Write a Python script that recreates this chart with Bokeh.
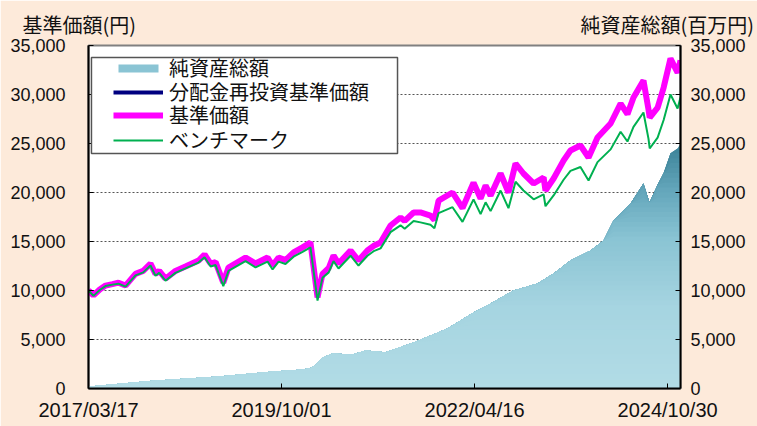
import re
import numpy as np
import pandas as pd
from bokeh.plotting import figure
from bokeh.models import (Range1d, LinearAxis, FixedTicker, NumeralTickFormatter,
                          Legend, LegendItem, BoxAnnotation, DatetimeTickFormatter, Title)
from bokeh.embed import file_html
from bokeh.resources import INLINE

# ---------------- data ----------------
dates = ["2017-03-17", "2017-04-10", "2017-05-10", "2017-06-07", "2017-07-10", "2017-08-08",
         "2017-09-11", "2017-10-29", "2017-12-05", "2018-01-09", "2018-02-02", "2018-02-20",
         "2018-03-22", "2018-05-09", "2018-06-26", "2018-08-28", "2018-09-26", "2018-10-25",
         "2018-11-18", "2018-12-25", "2019-01-19", "2019-04-11", "2019-05-29", "2019-07-26",
         "2019-08-19", "2019-09-17", "2019-10-20", "2019-11-28", "2020-01-10", "2020-02-17",
         "2020-03-22", "2020-04-15", "2020-05-15", "2020-06-07", "2020-07-01", "2020-08-28",
         "2020-10-05", "2020-11-17", "2020-12-20", "2021-01-19", "2021-03-08", "2021-04-25",
         "2021-05-15", "2021-06-27", "2021-07-30", "2021-09-16", "2021-10-05", "2021-10-25",
         "2021-12-31", "2022-02-17", "2022-04-11", "2022-05-15", "2022-06-08", "2022-07-02",
         "2022-08-19", "2022-09-26", "2022-10-30", "2022-12-07", "2023-01-25", "2023-03-14",
         "2023-03-23", "2023-05-01", "2023-06-18", "2023-07-21", "2023-09-07", "2023-10-16",
         "2023-11-28", "2024-01-30", "2024-03-18", "2024-04-20", "2024-05-19", "2024-07-06",
         "2024-07-30", "2024-08-05", "2024-09-12", "2024-10-11", "2024-11-13", "2024-12-17",
         "2024-12-31"]

nav = [10000, 9500, 10100, 10500, 10650, 10800,
       10500, 11700, 12000, 12750, 11700, 12000,
       11200, 12000, 12450, 13060, 13670, 12750,
       12900, 10800, 12350, 13370, 12750, 13370,
       12550, 13370, 13100, 13880, 14400, 14900,
       9300, 11700, 12300, 13570, 12750, 14080,
       13060, 14080, 14600, 14900, 16630, 17450,
       17100, 17960, 17960, 17650, 17200, 19180,
       20000, 18400, 21000, 19390, 20710, 19690,
       21940, 20000, 22960, 21940, 20920, 21530,
       20200, 21430, 23270, 24290, 24800, 23570,
       25610, 27040, 29080, 28000, 29690, 31430,
       28500, 27650, 28670, 30710, 33670, 32240,
       33470]

bench = [10000, 9450, 10050, 10450, 10600, 10700,
         10400, 11550, 11850, 12550, 11500, 11800,
         11000, 11800, 12250, 12850, 13400, 12450,
         12600, 10450, 12000, 13000, 12350, 12950,
         12150, 12950, 12700, 13450, 13950, 14400,
         8980, 11300, 11850, 13000, 12250, 13550,
         12550, 13550, 14050, 14300, 15950, 16650,
         16300, 17100, 16950, 16700, 16350, 17900,
         18500, 17000, 19300, 17800, 19000, 18100,
         20200, 18400, 21100, 20200, 19300, 19800,
         18600, 19700, 21300, 22200, 22600, 21220,
         23100, 24400, 26200, 25200, 26700, 28160,
         25500, 24490, 25600, 27400, 30000, 28570,
         29700]

na_dates = ["2017-03-17", "2018-01-19", "2018-12-02", "2019-08-19", "2020-01-10", "2020-02-17",
            "2020-03-10", "2020-04-15", "2020-06-02", "2020-09-06", "2020-11-08", "2021-02-12",
            "2021-06-27", "2021-12-07", "2022-04-11", "2022-07-02", "2022-10-20", "2023-02-13",
            "2023-05-01", "2023-07-21", "2023-10-26", "2023-12-27", "2024-02-13", "2024-05-05",
            "2024-07-06", "2024-08-04", "2024-09-12", "2024-10-11", "2024-11-13", "2024-12-17",
            "2024-12-31"]
net_assets = [200, 800, 1220, 1730, 1940, 2100,
              2350, 3160, 3570, 3470, 3880, 3700,
              4690, 6120, 7760, 8670, 10000, 10710,
              11730, 13060, 14080, 15100, 17140, 18880,
              20920, 18980, 20800, 22000, 24000, 24500,
              25000]

x_tick_labels = ["2017/03/17", "2019/10/01", "2022/04/16", "2024/10/30"]
y_ticks = [0, 5000, 10000, 15000, 20000, 25000, 30000, 35000]

series_names = ["純資産総額", "分配金再投資基準価額", "基準価額", "ベンチマーク"]
left_title = "基準価額(円)"
right_title = "純資産総額(百万円)"

# ---------------- styling ----------------
BG = "#FDEADA"
JP = "Noto Sans CJK JP"
NUM = "Liberation Sans"
TXT = "#111111"

d = pd.to_datetime(dates)
nd = pd.to_datetime(na_dates)
xt = [pd.Timestamp(s.replace("/", "-")).value // 10**6 for s in x_tick_labels]

# both axis titles share the strip above the frame (separated by ideographic spaces)
title = Title(text=left_title + "\u3000" * 22 + "  " + right_title, align="left", offset=-66,
              standoff=14, text_font=JP, text_font_size="20px", text_font_style="normal",
              text_color=TXT)

p = figure(frame_width=592, frame_height=343, x_axis_type="datetime",
           x_range=Range1d(d[0], d[-1]), y_range=Range1d(y_ticks[0], y_ticks[-1]),
           output_backend="svg", toolbar_location=None, title=title,
           min_border_left=88, min_border_right=77, min_border_top=45, min_border_bottom=38,
           background_fill_color="white", border_fill_color=BG)
p.extra_y_ranges = {"na": Range1d(y_ticks[0], y_ticks[-1])}

p.outline_line_color = "#808080"
p.outline_line_width = 2
p.xgrid.grid_line_color = None
p.ygrid.ticker = FixedTicker(ticks=y_ticks[1:-1])
p.ygrid.grid_line_color = "#555555"
p.ygrid.grid_line_dash = "2 2"
p.ygrid.grid_line_width = 1

# gradient area for net assets (stacked bands, darker for higher values)
stops_v = [0, 8000, 15000, 20000, 25000]
stops_c = [(178, 220, 230), (166, 213, 225), (138, 196, 212), (100, 166, 187), (56, 128, 149)]
levels = np.linspace(0, 25000, 51)
na_arr = np.array(net_assets, dtype=float)


def colour_at(v):
    r = np.interp(v, stops_v, [c[0] for c in stops_c])
    g = np.interp(v, stops_v, [c[1] for c in stops_c])
    b = np.interp(v, stops_v, [c[2] for c in stops_c])
    return "#%02x%02x%02x" % (int(r), int(g), int(b))


nb = len(levels) - 1
bands = {}
for k in reversed(range(nb)):
    top = na_arr if k == nb - 1 else np.minimum(na_arr, levels[k + 1])
    bands[k] = p.varea(x=nd, y1=np.zeros_like(na_arr), y2=top, fill_color=colour_at(levels[k]),
                       y_range_name="na")

r_navy = p.line(d, nav, line_color="#000080", line_width=4)
r_pink = p.line(d, nav, line_color="#FF00FF", line_width=6)
r_green = p.line(d, bench, line_color="#00B050", line_width=2)

# axes
p.yaxis.ticker = FixedTicker(ticks=y_ticks)
p.yaxis.formatter = NumeralTickFormatter(format="0,0")
right = LinearAxis(y_range_name="na", ticker=FixedTicker(ticks=y_ticks),
                   formatter=NumeralTickFormatter(format="0,0"))
p.add_layout(right, "right")
for ax in (p.yaxis[0], right):
    ax.major_tick_in = 5
    ax.major_tick_out = 0
    ax.minor_tick_line_color = None
    ax.axis_line_color = "black"
    ax.axis_line_width = 2
    ax.major_tick_line_color = "black"
    ax.major_label_text_font = NUM
    ax.major_label_text_font_size = "18px"
    ax.major_label_text_color = TXT
p.yaxis[0].major_label_standoff = 23
right.major_label_standoff = 10

p.xaxis.ticker = FixedTicker(ticks=xt)
p.xaxis.formatter = DatetimeTickFormatter(days="%Y/%m/%d", months="%Y/%m/%d", years="%Y/%m/%d")
p.xaxis.major_tick_in = 5
p.xaxis.major_tick_out = 0
p.xaxis.minor_tick_line_color = None
p.xaxis.axis_line_color = "black"
p.xaxis.axis_line_width = 2
p.xaxis.major_label_text_font = NUM
p.xaxis.major_label_text_font_size = "20px"
p.xaxis.major_label_text_color = TXT
p.xaxis.major_label_standoff = 10

# legend frame (fractions of the plot ranges)
x0, x1 = d[0], d[-1]
span = x1 - x0
box = BoxAnnotation(left=x0 + span * 0.005, right=x0 + span * 0.522,
                    bottom=y_ticks[-1] * 0.685, top=y_ticks[-1] * 0.965,
                    fill_color="white", fill_alpha=1.0,
                    line_color="#555555", line_width=1.5, line_alpha=1.0)
p.add_layout(box)

# one single-item legend per row, so the rows can sit 24px apart
legend_renderers = [bands[30], r_navy, r_pink, r_green]
row_offsets = [306, 282, 259, 234]
for name, rend, yoff in zip(series_names, legend_renderers, row_offsets):
    lg = Legend(items=[LegendItem(label=name, renderers=[rend])],
                location=(25, yoff), padding=0, spacing=0, margin=0,
                glyph_width=50, glyph_height=10, label_standoff=6,
                label_text_font=JP, label_text_font_size="20px", label_text_color=TXT,
                background_fill_alpha=0, border_line_alpha=0)
    p.add_layout(lg)

html = file_html(p, INLINE, title="chart")
html = re.sub(r"<body[^>]*>", '<body style="background-color:%s;">' % BG, html, count=1)
open("out.html", "w").write(html)
